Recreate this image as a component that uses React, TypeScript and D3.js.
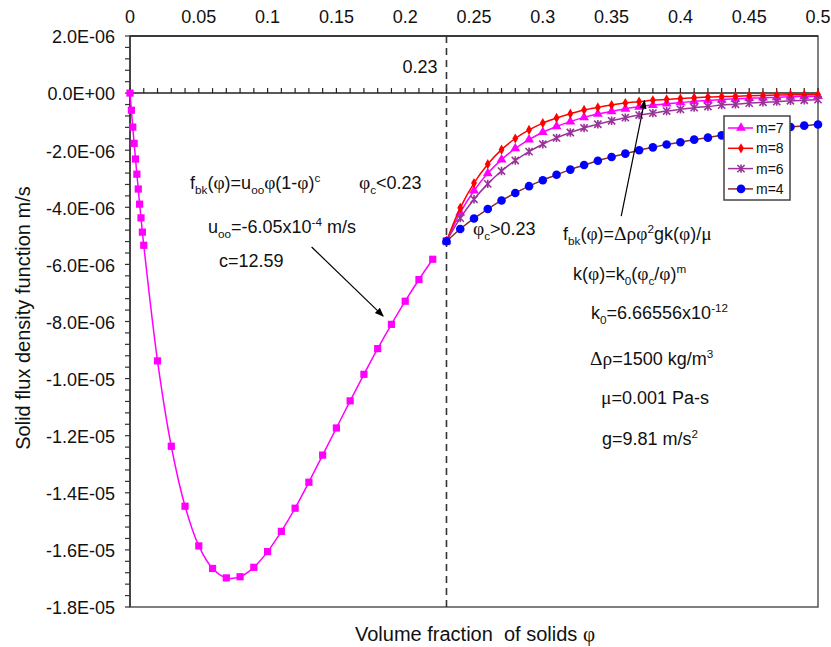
import React from 'react';
import * as d3 from 'd3';

// volume fraction of solids (phi) and solid flux density (x 1e-6 m/s)
const phiLeft = [0, 0.001, 0.002, 0.003, 0.004, 0.005, 0.006, 0.007, 0.008, 0.009, 0.01,
  0.02, 0.03, 0.04, 0.05, 0.06, 0.07, 0.08, 0.09, 0.1, 0.11, 0.12, 0.13, 0.14, 0.15,
  0.16, 0.17, 0.18, 0.19, 0.2, 0.21, 0.22];
const fluxLeft = [0, -0.6, -1.19, -1.76, -2.31, -2.84, -3.36, -3.89, -4.37, -4.87, -5.33,
  -9.38, -12.37, -14.47, -15.86, -16.65, -16.98, -16.94, -16.61, -16.06, -15.35, -14.54,
  -13.63, -12.68, -11.73, -10.78, -9.85, -8.95, -8.1, -7.29, -6.53, -5.82];

const phiRight = [0.23, 0.24, 0.25, 0.26, 0.27, 0.28, 0.29, 0.3, 0.31, 0.32, 0.33, 0.34,
  0.35, 0.36, 0.37, 0.38, 0.39, 0.4, 0.41, 0.42, 0.43, 0.44, 0.45, 0.46, 0.47, 0.48, 0.49, 0.5];
const fluxM7 = [-5.19, -4.19, -3.42, -2.81, -2.33, -1.94, -1.63, -1.37, -1.17, -1.0, -0.85,
  -0.73, -0.64, -0.55, -0.48, -0.42, -0.37, -0.33, -0.29, -0.26, -0.23, -0.2, -0.18, -0.16,
  -0.15, -0.13, -0.12, -0.11];
const fluxM8 = [-5.19, -4.02, -3.15, -2.49, -1.98, -1.59, -1.29, -1.05, -0.87, -0.72, -0.59,
  -0.5, -0.42, -0.35, -0.3, -0.25, -0.22, -0.19, -0.16, -0.14, -0.12, -0.11, -0.09, -0.08,
  -0.07, -0.06, -0.06, -0.05];
const fluxM6 = [-5.19, -4.38, -3.72, -3.18, -2.73, -2.36, -2.05, -1.79, -1.57, -1.38, -1.22,
  -1.09, -0.97, -0.86, -0.77, -0.7, -0.63, -0.57, -0.51, -0.47, -0.42, -0.39, -0.35, -0.32,
  -0.3, -0.27, -0.25, -0.23];
const fluxM4 = [-5.19, -4.76, -4.39, -4.06, -3.76, -3.5, -3.26, -3.05, -2.86, -2.68, -2.52,
  -2.37, -2.24, -2.12, -2.0, -1.9, -1.8, -1.72, -1.63, -1.56, -1.48, -1.42, -1.36, -1.3,
  -1.24, -1.19, -1.14, -1.1];

const xTicks = [0, 0.05, 0.1, 0.15, 0.2, 0.25, 0.3, 0.35, 0.4, 0.45, 0.5];
const xTickLabels = ['0', '0.05', '0.1', '0.15', '0.2', '0.25', '0.3', '0.35', '0.4', '0.45', '0.5'];
const yTicks = [2, 0, -2, -4, -6, -8, -10, -12, -14, -16, -18];
const yTickLabels = ['2.0E-06', '0.0E+00', '-2.0E-06', '-4.0E-06', '-6.0E-06', '-8.0E-06',
  '-1.0E-05', '-1.2E-05', '-1.4E-05', '-1.6E-05', '-1.8E-05'];

const phiCritical = 0.23;

const series = [
  { name: 'm=7', values: fluxM7, line: '#ff00ff', marker: 'triangle', fill: '#ff00ff' },
  { name: 'm=8', values: fluxM8, line: '#ff0000', marker: 'diamond', fill: '#ff0000' },
  { name: 'm=6', values: fluxM6, line: '#993399', marker: 'star', fill: '#993399' },
  { name: 'm=4', values: fluxM4, line: '#8b2a2a', marker: 'circle', fill: '#0000ff' },
];

const W = 831;
const H = 647;
const left = 130, right = 818, top = 36, bottom = 607;
const FONT = '"Liberation Sans", Arial, Helvetica, sans-serif';
const GREEK = '"Liberation Serif", "Times New Roman", serif';

type Seg = [string, string?];

// text with sub/superscripts; greek letters drawn in serif like the Symbol font
const Rich = ({ x, y, segs, size = 18, anchor = 'start' }: { x: number; y: number; segs: Seg[]; size?: number; anchor?: string }) => {
  let shift = 0;
  const out = segs.map(([t, kind], i) => {
    const target = kind === 'sub' ? size * 0.3 : kind === 'sup' ? -size * 0.4 : 0;
    const dy = target - shift;
    shift = target;
    const fs = kind ? size * 0.65 : size;
    const parts = t.split(/([φρΔμ])/).filter(p => p !== '');
    return (
      <tspan key={i} dy={dy} fontSize={fs}>
        {parts.map((p, j) =>
          /[φρΔμ]/.test(p) ? <tspan key={j} fontFamily={GREEK} fontSize={fs * 1.08}>{p}</tspan> : p
        )}
      </tspan>
    );
  });
  return (
    <text x={x} y={y} fontFamily={FONT} fontSize={size} textAnchor={anchor} fill="#111" style={{ whiteSpace: 'pre' }}>
      {out}
    </text>
  );
};

const Marker = ({ kind, x, y, color }: { kind: string; x: number; y: number; color: string }) => {
  if (kind === 'circle') return <circle cx={x} cy={y} r={4.3} fill={color} />;
  if (kind === 'square') return <rect x={x - 3.6} y={y - 3.6} width={7.2} height={7.2} fill={color} />;
  if (kind === 'star') {
    return (
      <path
        transform={`translate(${x},${y})`}
        d="M-3.6,-3.6L3.6,3.6M-3.6,3.6L3.6,-3.6M0,-4.2L0,4.2"
        stroke={color}
        strokeWidth={1.6}
        fill="none"
      />
    );
  }
  const sym = kind === 'triangle' ? d3.symbolTriangle : d3.symbolDiamond;
  const size = kind === 'triangle' ? 42 : 30;
  return <path transform={`translate(${x},${y})`} d={d3.symbol(sym, size)() as string} fill={color} />;
};

export default function App() {
  const x = d3.scaleLinear().domain([0, 0.5]).range([left, right]);
  const y = d3.scaleLinear().domain([-18, 2]).range([bottom, top]);

  const line = d3
    .line<[number, number]>()
    .x(d => x(d[0]))
    .y(d => y(d[1]))
    .curve(d3.curveCatmullRom.alpha(0.5));

  const leftPts: [number, number][] = phiLeft.map((p, i) => [p, fluxLeft[i]]);
  const minorY = d3.range(-18, 2.001, 0.4);
  const minorX = d3.range(0, 0.5001, 0.01);

  const legX = 724, legY = 116, legW = 66, legH = 84;

  return (
    <svg width={W} height={H} style={{ position: 'absolute', left: 0, top: 0, background: '#fff' }}>
      <defs>
        <marker id="arrow" viewBox="0 0 10 10" refX="9" refY="5" markerWidth="9" markerHeight="9" markerUnits="userSpaceOnUse" orient="auto">
          <path d="M0,1L10,5L0,9z" fill="#000" />
        </marker>
      </defs>

      {/* plot frame */}
      <rect x={left} y={top} width={right - left} height={bottom - top} fill="none" stroke="#555" strokeWidth={1.5} />
      <line x1={left} x2={right} y1={top} y2={top} stroke="#222" strokeWidth={1.5} />

      {/* y axis with outward ticks */}
      <line x1={left} x2={left} y1={top} y2={bottom} stroke="#333" strokeWidth={1.5} />
      {minorY.map((v, i) => (
        <line key={i} x1={left - 5} x2={left} y1={y(v)} y2={y(v)} stroke="#333" strokeWidth={1.2} />
      ))}
      {yTicks.map((v, i) => (
        <text key={v} x={115} y={y(v) + 1} dy="0.35em" textAnchor="end" fontFamily={FONT} fontSize={18} fill="#111">
          {yTickLabels[i]}
        </text>
      ))}

      {/* x axis drawn at zero with labels on top */}
      <line x1={left} x2={right} y1={y(0)} y2={y(0)} stroke="#222" strokeWidth={1.5} />
      {minorX.map((v, i) => (
        <line key={i} x1={x(v)} x2={x(v)} y1={y(0)} y2={y(0) - 5} stroke="#222" strokeWidth={1.2} />
      ))}
      {xTicks.map((v, i) => (
        <text key={v} x={x(v)} y={23} textAnchor="middle" fontFamily={FONT} fontSize={18} fill="#111">
          {xTickLabels[i]}
        </text>
      ))}

      {/* critical volume fraction */}
      <line x1={x(phiCritical)} x2={x(phiCritical)} y1={top} y2={bottom} stroke="#333" strokeWidth={1.6} strokeDasharray="7,5" />
      <text x={x(phiCritical) - 9} y={73} textAnchor="end" fontFamily={FONT} fontSize={18} fill="#111">0.23</text>

      {/* hindered settling branch */}
      <path d={line(leftPts) as string} fill="none" stroke="#ff00ff" strokeWidth={1.5} />
      {leftPts.map((d, i) => (
        <Marker key={i} kind="square" x={x(d[0])} y={y(d[1])} color="#ff00ff" />
      ))}

      {/* consolidation branches */}
      {series.map(s => {
        const pts: [number, number][] = phiRight.map((p, i) => [p, s.values[i]]);
        return (
          <g key={s.name}>
            <path d={line(pts) as string} fill="none" stroke={s.line} strokeWidth={1.5} />
            {pts.map((d, i) => (
              <Marker key={i} kind={s.marker} x={x(d[0])} y={y(d[1])} color={s.fill} />
            ))}
          </g>
        );
      })}

      {/* legend */}
      <rect x={legX} y={legY} width={legW} height={legH} fill="#fff" stroke="#444" strokeWidth={1.5} />
      {series.map((s, i) => {
        const ly = legY + 12 + i * 20.3;
        return (
          <g key={s.name}>
            <line x1={legX + 4} x2={legX + 29} y1={ly} y2={ly} stroke={s.line} strokeWidth={1.5} />
            <Marker kind={s.marker} x={legX + 17} y={ly} color={s.fill} />
            <text x={legX + 32} y={ly} dy="0.35em" fontFamily={FONT} fontSize={14} fill="#111">{s.name}</text>
          </g>
        );
      })}

      {/* annotations */}
      <Rich x={190} y={189} segs={[['f'], ['bk', 'sub'], ['(φ)=u'], ['oo', 'sub'], ['φ(1-φ)'], ['c', 'sup']]} />
      <Rich x={359} y={189} segs={[['φ'], ['c', 'sub'], ['<0.23']]} />
      <Rich x={208} y={233} segs={[['u'], ['oo', 'sub'], ['=-6.05x10'], ['-4', 'sup'], [' m/s']]} />
      <Rich x={219} y={267} segs={[['c=12.59']]} />
      <line x1={x(0.132)} y1={y(-5.39)} x2={x(0.184)} y2={y(-7.81)} stroke="#000" strokeWidth={1.2} markerEnd="url(#arrow)" />

      <Rich x={473} y={235} segs={[['φ'], ['c', 'sub'], ['>0.23']]} />
      <Rich x={563} y={240} segs={[['f'], ['bk', 'sub'], ['(φ)=Δρφ'], ['2', 'sup'], ['gk(φ)/μ']]} />
      <line x1={x(0.357)} y1={y(-4.31)} x2={x(0.374)} y2={y(-0.26)} stroke="#000" strokeWidth={1.2} markerEnd="url(#arrow)" />
      <Rich x={573} y={280} segs={[['k(φ)=k'], ['0', 'sub'], ['(φ'], ['c', 'sub'], ['/φ)'], ['m', 'sup']]} />
      <Rich x={591} y={319} segs={[['k'], ['0', 'sub'], ['=6.66556x10'], ['-12', 'sup']]} />
      <Rich x={590} y={365} segs={[['Δρ=1500 kg/m'], ['3', 'sup']]} />
      <Rich x={601} y={404} segs={[['μ=0.001 Pa-s']]} />
      <Rich x={602} y={445} segs={[['g=9.81 m/s'], ['2', 'sup']]} />

      {/* axis titles */}
      <text transform="translate(30,318) rotate(-90)" textAnchor="middle" fontFamily={FONT} fontSize={20} fill="#111">
        Solid flux density function m/s
      </text>
      <text x={475} y={641} textAnchor="middle" fontFamily={FONT} fontSize={20} fill="#111" style={{ whiteSpace: 'pre' }}>
        {'Volume fraction  of solids '}
        <tspan fontFamily={GREEK} fontSize={21}>φ</tspan>
      </text>
    </svg>
  );
}
